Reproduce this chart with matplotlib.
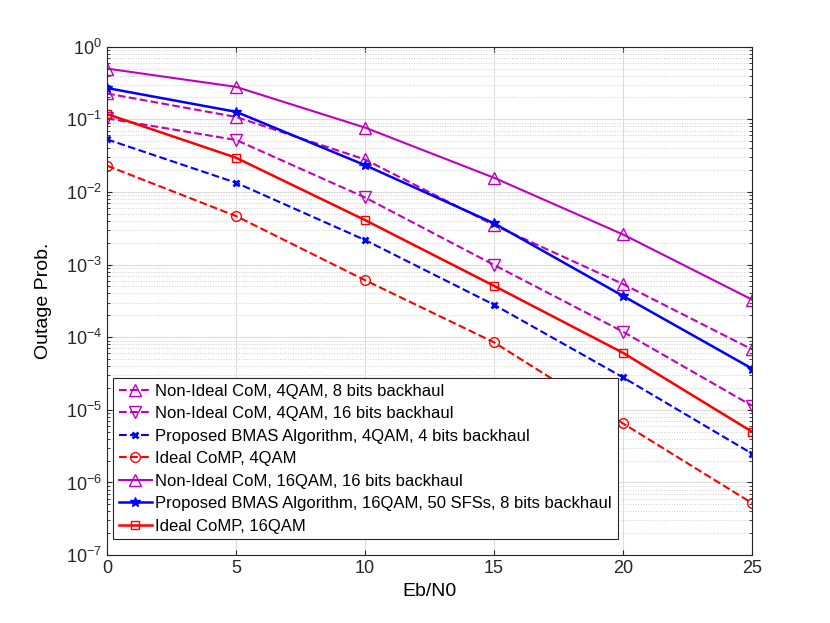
import matplotlib
matplotlib.use('Agg')
import matplotlib.pyplot as plt
from matplotlib.ticker import LogLocator, NullFormatter

plt.rcParams['font.family'] = ['Liberation Sans', 'DejaVu Sans']

ebn0 = [0, 5, 10, 15, 20, 25]

nonideal_4qam_8b = [0.227, 0.108, 0.028, 3.5e-3, 5.4e-4, 6.8e-5]
nonideal_4qam_16b = [0.103, 0.052, 0.0084, 9.9e-4, 1.19e-4, 1.14e-5]
bmas_4qam_4b = [0.053, 0.0134, 0.00218, 2.8e-4, 2.8e-5, 2.5e-6]
ideal_4qam = [0.023, 0.00466, 6.1e-4, 8.5e-5, 6.5e-6, 5.2e-7]
nonideal_16qam_16b = [0.50, 0.28, 0.077, 0.0157, 2.6e-3, 3.3e-4]
bmas_16qam_8b = [0.27, 0.127, 0.0234, 3.7e-3, 3.7e-4, 3.7e-5]
ideal_16qam = [0.118, 0.0296, 0.0041, 5.1e-4, 6.1e-5, 5.0e-6]

labels = [
    'Non-Ideal CoM, 4QAM, 8 bits backhaul',
    'Non-Ideal CoM, 4QAM, 16 bits backhaul',
    'Proposed BMAS Algorithm, 4QAM, 4 bits backhaul',
    'Ideal CoMP, 4QAM',
    'Non-Ideal CoM, 16QAM, 16 bits backhaul',
    'Proposed BMAS Algorithm, 16QAM, 50 SFSs, 8 bits backhaul',
    'Ideal CoMP, 16QAM',
]

mag = '#bf00bf'
fig = plt.figure(figsize=(8.3, 6.23), dpi=100)
ax = fig.add_axes([0.129, 0.109, 0.777, 0.816])

ax.semilogy(ebn0, nonideal_4qam_8b, '--', color=mag, marker='^', mfc='none', ms=8, lw=1.5, label=labels[0])
ax.semilogy(ebn0, nonideal_4qam_16b, '--', color=mag, marker='v', mfc='none', ms=8, lw=1.5, label=labels[1])
ax.semilogy(ebn0, bmas_4qam_4b, '--', color='blue', marker='x', ms=5, mew=2, lw=1.5, label=labels[2])
ax.semilogy(ebn0, ideal_4qam, '--', color='red', marker='o', mfc='none', ms=7, lw=1.5, label=labels[3])
ax.semilogy(ebn0, nonideal_16qam_16b, '-', color=mag, marker='^', mfc='none', ms=8, lw=1.5, label=labels[4])
ax.semilogy(ebn0, bmas_16qam_8b, '-', color='blue', marker='*', ms=7, lw=1.8, label=labels[5])
ax.semilogy(ebn0, ideal_16qam, '-', color='red', marker='s', mfc='none', ms=6, lw=1.8, label=labels[6])

ax.set_xlim(0, 25)
ax.set_ylim(1e-7, 1)
ax.set_xticks([0, 5, 10, 15, 20, 25])
ax.yaxis.set_major_locator(LogLocator(base=10, numticks=10))
ax.yaxis.set_minor_locator(LogLocator(base=10, subs=range(2, 10), numticks=100))
ax.yaxis.set_minor_formatter(NullFormatter())
ax.tick_params(which='both', direction='in', top=True, right=True, labelsize=13, colors='#262626')
ax.grid(True, which='major', color='#dcdcdc', lw=0.8)
ax.grid(True, which='minor', color='#d0d0d0', ls=':', lw=0.7)
for s in ax.spines.values():
    s.set_color('#262626')
ax.set_xlabel('Eb/N0', fontsize=14)
ax.set_ylabel('Outage Prob.', fontsize=14, labelpad=10)

leg = ax.legend(loc='lower left', bbox_to_anchor=(0.009, 0.031), fontsize=12,
                fancybox=False, framealpha=1, edgecolor='#262626',
                handlelength=2.0, handletextpad=0.2, labelspacing=0.45,
                borderpad=0.35, borderaxespad=0)
leg.get_frame().set_linewidth(0.8)

fig.savefig('out.png', dpi=100)
